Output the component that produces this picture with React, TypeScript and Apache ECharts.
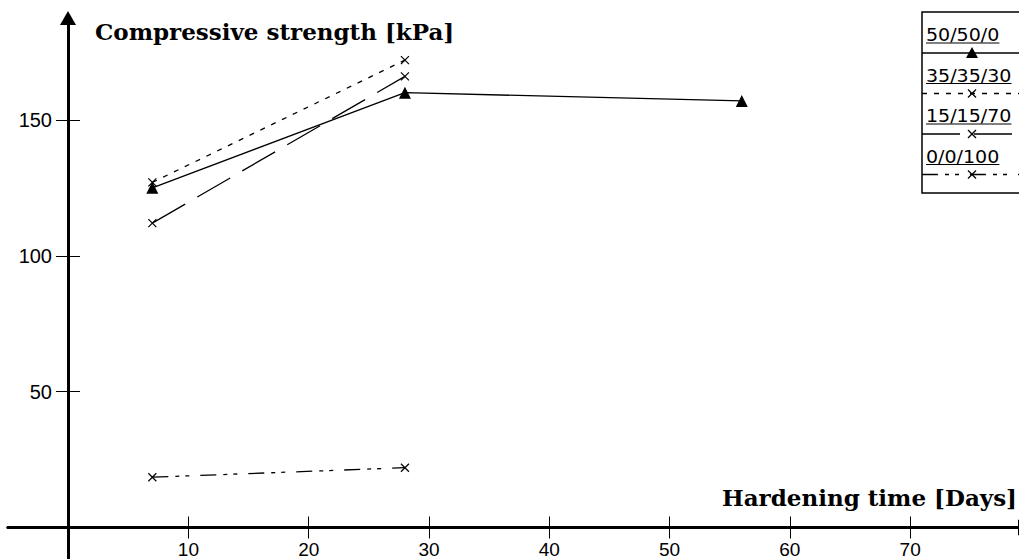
import React, { useEffect, useRef } from "react";
import * as echarts from "echarts";

// ---- data ----
const SERIES_NAMES = ["50/50/0", "35/35/30", "15/15/70", "0/0/100"];
const DAYS_A = [7, 28, 56];
const STRENGTH_A = [125, 160, 157];
const DAYS_B = [7, 28];
const STRENGTH_B = [127, 172];
const DAYS_C = [7, 28];
const STRENGTH_C = [112, 166];
const DAYS_D = [7, 28];
const STRENGTH_D = [18.5, 22];
const X_TICKS = [10, 20, 30, 40, 50, 60, 70];
const Y_TICKS = [50, 100, 150];
const X_TITLE = "Hardening time [Days]";
const Y_TITLE = "Compressive strength [kPa]";

// ---- styles ----
const DASHES: any[] = ["solid", [5, 7], [38, 14], [16, 7, 4, 6, 4, 11]];
const MARKERS = ["triangle", "x", "x", "x"];
const X_PATH = "path://M0,0L10,10M10,0L0,10";
const LABEL_FONT = "Liberation Sans";
const LEGEND_FONT = "17px 'DejaVu Sans'";
const LEGEND_SCALE_X = 1.12;
const TITLE_FONT = "bold 23px 'DejaVu Serif'";

function pairs(xs: number[], ys: number[]) {
  return xs.map((x, i) => [x, ys[i]]);
}

function measure(text: string, font: string) {
  const ctx = document.createElement("canvas").getContext("2d")!;
  ctx.font = font;
  return ctx.measureText(text).width;
}

export default function App() {
  const ref = useRef<HTMLDivElement>(null);
  useEffect(() => {
    const chart = echarts.init(ref.current!, null, { renderer: "svg" });
    const dataSets = [
      pairs(DAYS_A, STRENGTH_A),
      pairs(DAYS_B, STRENGTH_B),
      pairs(DAYS_C, STRENGTH_C),
      pairs(DAYS_D, STRENGTH_D),
    ];
    const series = SERIES_NAMES.map((name, i) => ({
      type: "line",
      name,
      data: dataSets[i],
      symbol: MARKERS[i] === "triangle" ? "triangle" : X_PATH,
      symbolSize: MARKERS[i] === "triangle" ? 12 : 8,
      itemStyle:
        MARKERS[i] === "triangle"
          ? { color: "#000" }
          : { color: "rgba(0,0,0,0)", borderColor: "#000", borderWidth: 1.2 },
      lineStyle: { color: "#000", width: 1.3, type: DASHES[i] },
      z: 3,
    }));

    // legend drawn as graphic
    const legendEls: any[] = [
      {
        type: "rect",
        shape: { x: 922, y: 12, width: 120, height: 181 },
        style: { fill: "#fff", stroke: "#000", lineWidth: 1.5 },
        z: 10,
      },
    ];
    SERIES_NAMES.forEach((name, i) => {
      const ty = 35 + i * 40.5;
      const ly = 53 + i * 40.5;
      const w = measure(name, LEGEND_FONT) * LEGEND_SCALE_X;
      legendEls.push({
        type: "text",
        x: 926,
        y: ty,
        scaleX: LEGEND_SCALE_X,
        style: { text: name, font: LEGEND_FONT, fill: "#000", textVerticalAlign: "middle" },
        z: 11,
      });
      legendEls.push({
        type: "line",
        shape: { x1: 926, y1: ty + 8, x2: 926 + w, y2: ty + 8 },
        style: { stroke: "#000", lineWidth: 1 },
        z: 11,
      });
      legendEls.push({
        type: "line",
        shape: { x1: 922, y1: ly, x2: 1019, y2: ly },
        style: {
          stroke: "#000",
          lineWidth: 1.3,
          lineDash: DASHES[i] === "solid" ? null : DASHES[i],
        },
        z: 11,
      });
      if (MARKERS[i] === "triangle") {
        legendEls.push({
          type: "polygon",
          shape: { points: [[972, ly - 6], [978, ly + 5], [966, ly + 5]] },
          style: { fill: "#000" },
          z: 12,
        });
      } else {
        legendEls.push({
          type: "line",
          shape: { x1: 968, y1: ly - 4, x2: 976, y2: ly + 4 },
          style: { stroke: "#000", lineWidth: 1.2 },
          z: 12,
        });
        legendEls.push({
          type: "line",
          shape: { x1: 976, y1: ly - 4, x2: 968, y2: ly + 4 },
          style: { stroke: "#000", lineWidth: 1.2 },
          z: 12,
        });
      }
    });

    const axisLineStyle = { color: "#000", width: 3 };
    // grid: left 8, right edge at 1025, top 18, bottom 559
    const xRange = { min: -5, max: 79.55 };
    const yRange = { min: -11.6, max: 187.5 };

    chart.setOption({
      animation: false,
      backgroundColor: "#fff",
      grid: {
        left: 8,
        right: -6,
        top: 18,
        bottom: 0,
        containLabel: false,
        outerBoundsMode: "none",
      },
      xAxis: [
        {
          type: "value",
          ...xRange,
          position: "bottom",
          offset: -31.5,
          axisLine: {
            onZero: false,
            lineStyle: axisLineStyle,
            symbol: ["none", "triangle"],
            symbolSize: [16, 14],
          },
          axisTick: {
            customValues: X_TICKS,
            length: 11,
            lineStyle: { color: "#000", width: 1 },
          },
          axisLabel: {
            customValues: X_TICKS,
            margin: 12,
            color: "#000",
            fontFamily: LABEL_FONT,
            fontSize: 19,
          },
          splitLine: { show: false },
        },
        {
          type: "value",
          ...xRange,
          position: "top",
          offset: -509.5,
          axisLine: { onZero: false, lineStyle: axisLineStyle },
          axisTick: {
            customValues: X_TICKS,
            length: 11,
            lineStyle: { color: "#000", width: 1 },
          },
          axisLabel: { show: false },
          splitLine: { show: false },
        },
      ],
      yAxis: [
        {
          type: "value",
          ...yRange,
          position: "left",
          offset: -60,
          axisLine: {
            onZero: false,
            lineStyle: axisLineStyle,
            symbol: ["none", "triangle"],
            symbolSize: [16, 14],
          },
          axisTick: {
            customValues: Y_TICKS,
            length: 12,
            lineStyle: { color: "#000", width: 1 },
          },
          axisLabel: {
            customValues: Y_TICKS,
            margin: 16,
            color: "#000",
            fontFamily: LABEL_FONT,
            fontSize: 20,
          },
          splitLine: { show: false },
        },
        {
          type: "value",
          ...yRange,
          position: "right",
          offset: -957,
          axisLine: { onZero: false, lineStyle: axisLineStyle },
          axisTick: {
            customValues: Y_TICKS,
            length: 12,
            lineStyle: { color: "#000", width: 1 },
          },
          axisLabel: { show: false },
          splitLine: { show: false },
        },
      ],
      series,
      graphic: [
        {
          type: "text",
          x: 95,
          y: 31,
          style: {
            text: Y_TITLE,
            font: TITLE_FONT,
            fill: "#000",
            textVerticalAlign: "middle",
          },
          z: 10,
        },
        {
          type: "text",
          x: 1017,
          y: 497,
          style: {
            text: X_TITLE,
            font: TITLE_FONT,
            fill: "#000",
            textAlign: "right",
            textVerticalAlign: "middle",
          },
          z: 10,
        },
        ...legendEls,
      ],
    });
    return () => chart.dispose();
  }, []);
  return (
    <div
      ref={ref}
      style={{ position: "fixed", left: 0, top: 0, width: 1019, height: 559 }}
    />
  );
}
